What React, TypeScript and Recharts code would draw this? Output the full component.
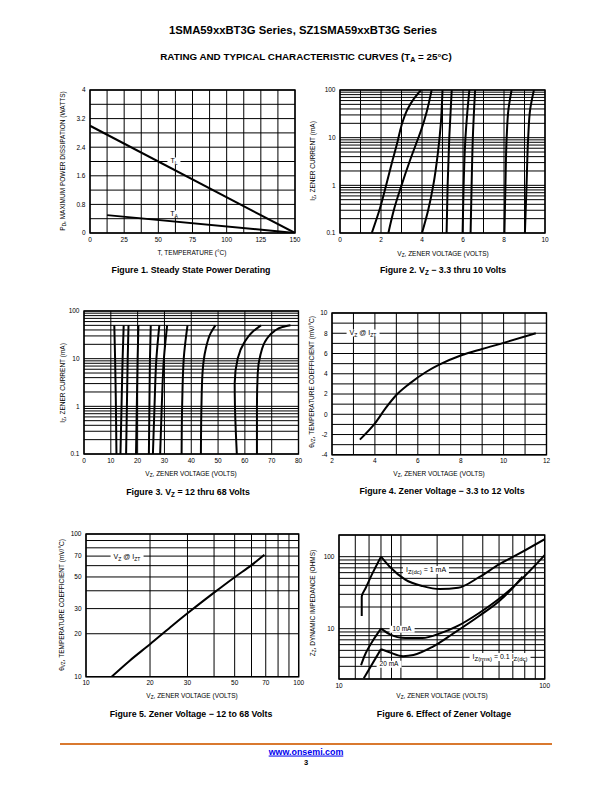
import React from 'react';
import { LineChart, Line, XAxis, YAxis, CartesianGrid, ReferenceArea } from 'recharts';

// ---- Figure 1: power derating ----
const derateTL: [number, number][] = [[0, 3.0], [150, 0]];
const derateTA: [number, number][] = [[12.5, 0.5], [150, 0]];
const fig1XTicks = [0, 12.5, 25, 37.5, 50, 62.5, 75, 87.5, 100, 112.5, 125, 137.5, 150];
const fig1XLabels = [0, 25, 50, 75, 100, 125, 150];
const fig1YTicks = [0, 0.4, 0.8, 1.2, 1.6, 2, 2.4, 2.8, 3.2, 3.6, 4];
const fig1YLabels = [0, 0.8, 1.6, 2.4, 3.2, 4];

// ---- Figure 2: Vz 3.3 thru 10 V (volts, mA) ----
const fig2Curves: [number, number][][] = [
  [[1.55, 0.1], [1.95, 0.33], [2.25, 1], [2.55, 3.2], [2.8, 8], [3.0, 18], [3.3, 40], [3.6, 65], [3.95, 100]],
  [[2.36, 0.1], [2.65, 0.33], [3.0, 1], [3.4, 3.2], [3.75, 8.2], [3.95, 14], [4.23, 35], [4.47, 100]],
  [[4.0, 0.1], [4.3, 0.3], [4.55, 1], [4.78, 5], [4.92, 20], [5.0, 100]],
  [[5.2, 0.1], [5.25, 1], [5.33, 10], [5.45, 100]],
  [[5.98, 0.1], [6.03, 1], [6.12, 10], [6.2, 30], [6.31, 100]],
  [[6.37, 0.1], [6.42, 1], [6.48, 10], [6.59, 100]],
  [[8.02, 0.1], [8.07, 1], [8.13, 10], [8.22, 40], [8.37, 100]],
  [[9.02, 0.1], [9.1, 1], [9.18, 10], [9.28, 40], [9.46, 100]],
];
const fig2XTicks = [0, 1, 2, 3, 4, 5, 6, 7, 8, 9, 10];
const fig2XLabels = [0, 2, 4, 6, 8, 10];
const logTicks3 = [
  0.1, 0.2, 0.3, 0.4, 0.5, 0.6, 0.7, 0.8, 0.9,
  1, 2, 3, 4, 5, 6, 7, 8, 9,
  10, 20, 30, 40, 50, 60, 70, 80, 90, 100,
];
const logLabels3 = [0.1, 1, 10, 100];

// ---- Figure 3: Vz 12 thru 68 V ----
const fig3Curves: [number, number][][] = [
  [[12.1, 0.1], [11.9, 1], [11.6, 10], [11.3, 50]],
  [[13.6, 0.1], [14.0, 1], [14.4, 10], [14.8, 50]],
  [[15.7, 0.1], [16.0, 1], [16.3, 10], [16.6, 50]],
  [[19.4, 0.1], [19.7, 1], [20.0, 10], [20.3, 50]],
  [[24.2, 0.1], [24.4, 1], [24.6, 10], [24.9, 50]],
  [[25.7, 0.1], [26.3, 1], [27.0, 10], [28.1, 50]],
  [[28.4, 0.1], [29.0, 1], [29.8, 10], [31.0, 50]],
  [[36.4, 0.1], [36.6, 1], [37.2, 10], [38.6, 50]],
  [[43.6, 0.1], [43.8, 1], [44.2, 5], [45.4, 16], [47.2, 34], [49.0, 50]],
  [[57.0, 0.1], [56.3, 1], [56.2, 3], [57.3, 10], [59.8, 22], [63.0, 37], [66.0, 50]],
  [[64.5, 0.1], [64.5, 1], [64.8, 5], [65.8, 12], [68.0, 25], [71.0, 38], [74.0, 46], [77.0, 50]],
];
const fig3XTicks = [0, 10, 20, 30, 40, 50, 60, 70, 80];

// ---- Figure 4: temp coefficient 3.3 to 12 V ----
const fig4Curve: [number, number][] = [
  [3.3, -2.5], [4, -0.9], [4.5, 0.6], [5, 1.9], [5.6, 3.0], [6.4, 4.2],
  [7, 4.9], [8, 5.8], [9, 6.45], [10, 7.05], [11.5, 8.0],
];
const fig4XTicks = [2, 3, 4, 5, 6, 7, 8, 9, 10, 11, 12];
const fig4XLabels = [2, 4, 6, 8, 10, 12];
const fig4YTicks = [-4, -3, -2, -1, 0, 1, 2, 3, 4, 5, 6, 7, 8, 9, 10];
const fig4YLabels = [-4, -2, 0, 2, 4, 6, 8, 10];

// ---- Figure 5: temp coefficient 12 to 68 V ----
const fig5Curve: [number, number][] = [
  [13.2, 10], [16, 12.9], [20, 16.9], [25, 22.3], [30, 27.8], [40, 38.8], [50, 49.8], [60, 60.5], [69, 71.5],
];
const decadeTicks = [10, 20, 30, 40, 50, 60, 70, 80, 90, 100];
const fig5Labels = [10, 20, 30, 50, 70, 100];

// ---- Figure 6: dynamic impedance ----
const oneMaRise: [number, number][] = [[12.9, 15], [12.9, 28], [13.5, 37], [14.6, 60], [16, 100]];
const oneMaFall: [number, number][] = [
  [16, 100], [17.6, 73], [21, 48], [25.5, 39], [31, 35.5], [38, 37], [48, 52], [60, 78], [75, 110], [100, 175],
];
const tenMaRise: [number, number][] = [[12.8, 3.1], [13.5, 4.6], [14.6, 6.8], [16, 10]];
const tenMaFall: [number, number][] = [
  [16, 10], [17.6, 8.4], [21, 7.4], [25.5, 7.4], [31, 8.6], [38, 11], [48, 16.5], [60, 26], [75, 45], [100, 105],
];
const twentyMaRise: [number, number][] = [[13.2, 2.05], [16, 5.2]];
const twentyMaFall: [number, number][] = [
  [16, 5.2], [17.6, 4.7], [20.5, 4.15], [23, 4.3], [28.5, 5.6], [36, 8.6], [48, 15], [60, 24], [70, 37], [78, 53],
];
const fig6XTicks = [10, 12, 14, 16, 18, 20, 30, 40, 50, 60, 70, 80, 90, 100];
const fig6YTicks = [
  2, 3, 4, 5, 6, 7, 8, 9, 10, 20, 30, 40, 50, 60, 70, 80, 90, 100, 200,
];
const fig6Labels = [10, 100];

const NARROW = '"Liberation Sans Narrow", "Arial Narrow", "Liberation Sans", Arial, sans-serif';
const ARIAL = '"Liberation Sans", Arial, Helvetica, sans-serif';
const tickStyle = { fontSize: 6.5, fill: '#000', fontFamily: NARROW };

const pts = (pairs: [number, number][]) => pairs.map(([x, y]) => ({ x, y }));
const only = (labels: number[]) => (v: number) => (labels.includes(v) ? String(v) : '');

const YW = 30;
const XH = 16;
const MT = 8;
const MR = 14;

type PanelProps = {
  px: number; py: number; pw: number; ph: number;
  xDomain: [number, number]; yDomain: [number, number];
  xTicks: number[]; yTicks: number[];
  xLabels: number[]; yLabels: number[];
  xLog?: boolean; yLog?: boolean;
  children: React.ReactNode;
};

const Panel = ({ px, py, pw, ph, xDomain, yDomain, xTicks, yTicks, xLabels, yLabels, xLog, yLog, children }: PanelProps) => (
  <div style={{ position: 'absolute', left: px - YW, top: py - MT }}>
    <LineChart width={pw + YW + MR} height={ph + XH + MT} margin={{ top: MT, right: MR, left: 0, bottom: 0 }}>
      <CartesianGrid stroke="#000" strokeWidth={1} />
      <XAxis
        type="number" dataKey="x" domain={xDomain} scale={xLog ? 'log' : 'linear'} allowDataOverflow
        ticks={xTicks} interval={0} tickFormatter={only(xLabels)} tick={tickStyle}
        tickLine={false} axisLine={false} tickSize={2} tickMargin={2} height={XH}
      />
      <YAxis
        type="number" dataKey="y" domain={yDomain} scale={yLog ? 'log' : 'linear'} allowDataOverflow
        ticks={yTicks} interval={0} tickFormatter={only(yLabels)} tick={tickStyle}
        tickLine={false} axisLine={false} tickSize={2} tickMargin={2.5} width={YW}
      />
      <ReferenceArea x1={xDomain[0]} x2={xDomain[1]} y1={yDomain[0]} y2={yDomain[1]} fill="none" fillOpacity={0} stroke="#000" strokeWidth={1.4} ifOverflow="visible" />
      {children}
    </LineChart>
  </div>
);

const curve = (pairs: [number, number][], key: string, type: any = 'monotone') => (
  <Line key={key} data={pts(pairs)} dataKey="y" type={type} stroke="#000" strokeWidth={2} dot={false} activeDot={false} isAnimationActive={false} />
);

const Sub = ({ children, scale = 0.72 }: { children: React.ReactNode; scale?: number }) => (
  <span style={{ fontSize: `${scale}em`, position: 'relative', top: '0.3em' }}>{children}</span>
);

type TProps = {
  x: number; y: number; size?: number; bold?: boolean; rotate?: boolean; bg?: boolean;
  font?: string; color?: string; underline?: boolean; children: React.ReactNode;
};
const T = ({ x, y, size = 6.5, bold, rotate, bg, font = NARROW, color = '#000', underline, children }: TProps) => (
  <div
    style={{
      position: 'absolute', left: x, top: y, whiteSpace: 'nowrap', lineHeight: 1,
      transform: `translate(-50%, -50%)${rotate ? ' rotate(-90deg)' : ''}`,
      fontSize: size, fontWeight: bold ? 'bold' : 'normal', fontFamily: font, color,
      background: bg ? '#fff' : 'transparent', padding: bg ? '0 3px' : 0,
      textDecoration: underline ? 'underline' : 'none',
    }}
  >
    {children}
  </div>
);

export default function App() {
  return (
    <div style={{ position: 'absolute', left: 0, top: 0, width: 612, height: 792, background: '#fff', overflow: 'hidden' }}>
      <T x={303} y={31} size={11.3} bold font={ARIAL}>1SMA59xxBT3G Series, SZ1SMA59xxBT3G Series</T>
      <T x={306} y={57} size={9.8} bold font={ARIAL}>
        RATING AND TYPICAL CHARACTERISTIC CURVES (T<Sub>A</Sub> = 25°C)
      </T>

      {/* Figure 1 */}
      <Panel px={89.5} py={89.5} pw={205} ph={143} xDomain={[0, 150]} yDomain={[0, 4]}
        xTicks={fig1XTicks} yTicks={fig1YTicks} xLabels={fig1XLabels} yLabels={fig1YLabels}>
        {curve(derateTL, 'tl', 'linear')}
        {curve(derateTA, 'ta', 'linear')}
      </Panel>
      <T x={63} y={161} rotate>P<Sub>D</Sub>, MAXIMUM POWER DISSIPATION (WATTS)</T>
      <T x={192} y={253}>T, TEMPERATURE (°C)</T>
      <T x={174} y={161} size={7} bg>T<Sub>L</Sub></T>
      <T x={174} y={214} size={7} bg>T<Sub>A</Sub></T>
      <T x={191} y={270} size={8.8} bold font={ARIAL}>Figure 1. Steady State Power Derating</T>

      {/* Figure 2 */}
      <Panel px={340} py={90} pw={205} ph={143} xDomain={[0, 10]} yDomain={[0.1, 100]} yLog
        xTicks={fig2XTicks} yTicks={logTicks3} xLabels={fig2XLabels} yLabels={logLabels3}>
        {fig2Curves.map((c, i) => curve(c, `f2-${i}`, 'monotoneY'))}
      </Panel>
      <T x={313} y={161} rotate>I<Sub>Z</Sub>, ZENER CURRENT (mA)</T>
      <T x={443} y={254}>V<Sub>Z</Sub>, ZENER VOLTAGE (VOLTS)</T>
      <T x={443} y={270} size={8.8} bold font={ARIAL}>Figure 2. V<Sub>Z</Sub> − 3.3 thru 10 Volts</T>

      {/* Figure 3 */}
      <Panel px={84} py={311} pw={214.5} ph={143} xDomain={[0, 80]} yDomain={[0.1, 100]} yLog
        xTicks={fig3XTicks} yTicks={logTicks3} xLabels={fig3XTicks} yLabels={logLabels3}>
        {fig3Curves.map((c, i) => curve(c, `f3-${i}`, 'monotoneY'))}
      </Panel>
      <T x={63} y={383} rotate>I<Sub>Z</Sub>, ZENER CURRENT (mA)</T>
      <T x={191} y={474}>V<Sub>Z</Sub>, ZENER VOLTAGE (VOLTS)</T>
      <T x={188} y={492} size={8.8} bold font={ARIAL}>Figure 3. V<Sub>Z</Sub> = 12 thru 68 Volts</T>

      {/* Figure 4 */}
      <Panel px={332} py={312.5} pw={214.5} ph={141.8} xDomain={[2, 12]} yDomain={[-4, 10]}
        xTicks={fig4XTicks} yTicks={fig4YTicks} xLabels={fig4XLabels} yLabels={fig4YLabels}>
        {curve(fig4Curve, 'f4')}
      </Panel>
      <T x={312} y={382} rotate>θ<Sub>VZ</Sub>, TEMPERATURE COEFFICIENT (mV/°C)</T>
      <T x={439} y={474}>V<Sub>Z</Sub>, ZENER VOLTAGE (VOLTS)</T>
      <T x={363} y={333} size={7} bg>V<Sub>Z</Sub> @ I<Sub>ZT</Sub></T>
      <T x={442} y={491} size={8.8} bold font={ARIAL}>Figure 4. Zener Voltage − 3.3 to 12 Volts</T>

      {/* Figure 5 */}
      <Panel px={86} py={534.3} pw={212.7} ph={142.7} xDomain={[10, 100]} yDomain={[10, 100]} xLog yLog
        xTicks={decadeTicks} yTicks={decadeTicks} xLabels={fig5Labels} yLabels={fig5Labels}>
        {curve(fig5Curve, 'f5')}
      </Panel>
      <T x={62} y={605} rotate>θ<Sub>VZ</Sub>, TEMPERATURE COEFFICIENT (mV/°C)</T>
      <T x={192} y={696}>V<Sub>Z</Sub>, ZENER VOLTAGE (VOLTS)</T>
      <T x={127} y={557} size={7} bg>V<Sub>Z</Sub> @ I<Sub>ZT</Sub></T>
      <T x={191} y={714} size={8.8} bold font={ARIAL}>Figure 5. Zener Voltage − 12 to 68 Volts</T>

      {/* Figure 6 */}
      <Panel px={339.3} py={534.8} pw={205.7} ph={144} xDomain={[10, 100]} yDomain={[2, 200]} xLog yLog
        xTicks={fig6XTicks} yTicks={fig6YTicks} xLabels={fig6Labels} yLabels={fig6Labels}>
        {curve(oneMaRise, 'a1', 'monotoneY')}
        {curve(oneMaFall, 'a2')}
        {curve(tenMaRise, 'b1', 'monotoneY')}
        {curve(tenMaFall, 'b2')}
        {curve(twentyMaRise, 'c1', 'linear')}
        {curve(twentyMaFall, 'c2')}
      </Panel>
      <T x={313} y={603} rotate>Z<Sub>Z</Sub>, DYNAMIC IMPEDANCE (OHMS)</T>
      <T x={442} y={696}>V<Sub>Z</Sub>, ZENER VOLTAGE (VOLTS)</T>
      <T x={426} y={570} size={7} bg>I<Sub scale={0.85}>Z(dc)</Sub> = 1 mA</T>
      <T x={402} y={629} size={6.5} bg>10 mA</T>
      <T x={389} y={664} size={6.5} bg>20 mA</T>
      <T x={500} y={657} size={7} bg>I<Sub scale={0.85}>Z(rms)</Sub> = 0.1 I<Sub scale={0.85}>Z(dc)</Sub></T>
      <T x={444} y={714} size={8.8} bold font={ARIAL}>Figure 6. Effect of Zener Voltage</T>

      {/* footer */}
      <div style={{ position: 'absolute', left: 60, top: 743, width: 492, height: 1.5, background: '#d9792f' }} />
      <T x={306} y={752} size={8.9} bold font={ARIAL} color="#0000ee" underline>www.onsemi.com</T>
      <T x={306} y={763} size={7.5} bold font={ARIAL}>3</T>
    </div>
  );
}
